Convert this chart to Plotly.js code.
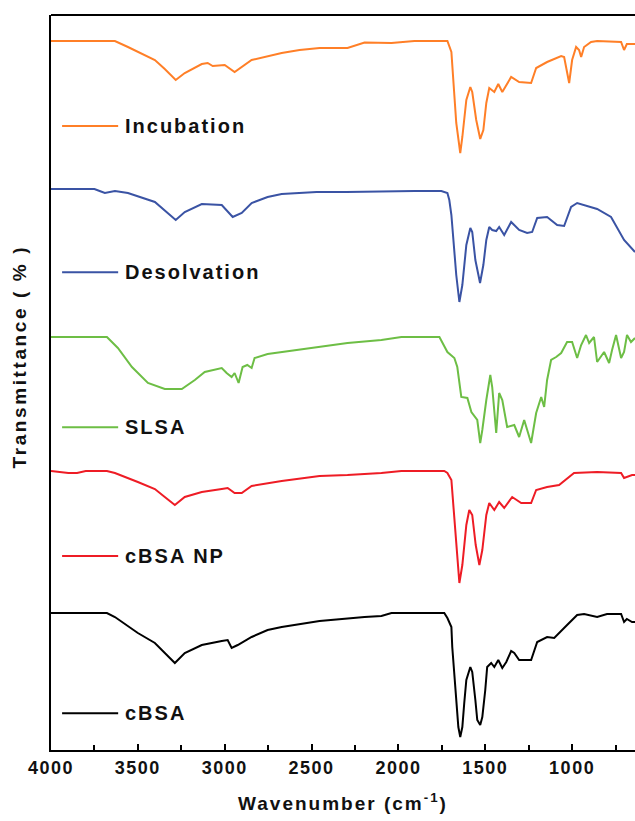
<!DOCTYPE html>
<html>
<head>
<meta charset="utf-8">
<script src="https://cdn.plot.ly/plotly-3.0.1.min.js"></script>
<style>
  html, body { margin: 0; padding: 0; background: #fff; overflow: hidden; }
  #chart { width: 635px; height: 821px; }
  .xtick text { letter-spacing: 1.5px; }
  .xtitle { letter-spacing: 2px; }
  .annotation-text { letter-spacing: 2px; }
  g.annotation[data-index="0"] text { letter-spacing: 2.6px; }
</style>
</head>
<body>
<div id="chart"></div>
<script>
// FTIR spectra, stacked with vertical offsets (arbitrary transmittance units)
const wnIncubation = [4000,3632,3557,3402,3345,3282,3230,3132,3098,3069,3000,2943,2845,2753,2672,2569,2454,2293,2195,2040,1908,1718,1695,1684,1667,1644,1632,1609,1586,1575,1552,1529,1511,1494,1477,1448,1425,1402,1351,1305,1236,1207,1144,1063,1046,1017,1000,977,960,948,931,891,856,718,701,685,638];
const tIncubation  = [141.8,141.8,140.6,138,136.2,134,135.4,137.2,137.4,136.8,137,135.6,138,138.8,139.4,140,140.4,140.4,141.5,141.4,141.8,141.8,139.6,134,125.4,119.4,122.6,130,132.6,131.6,126,122.2,124,129.4,132.4,131.6,133.2,131.6,134.6,133.6,133.4,136.4,137.6,138.8,138.6,133.4,138,140.6,140,138.6,140.6,141.6,141.8,141.6,140,141.2,141.2];

const wnDesolvation = [4000,3750,3720,3690,3632,3557,3402,3282,3230,3132,3017,2983,2954,2902,2845,2753,2672,2471,2300,1908,1753,1718,1707,1695,1684,1667,1649,1632,1609,1586,1575,1557,1530,1511,1494,1477,1460,1437,1420,1391,1351,1305,1259,1230,1201,1144,1086,1046,1006,971,856,776,701,655,638];
const tDesolvation  = [112.2,112.2,111.8,111.4,111.8,111.4,109.6,106,107.6,109.2,109,107.6,106.6,107.4,109.4,110.6,111.2,111.6,111.6,111.8,111.8,111.4,110,107,102,95,89.6,93,101,104.4,103.6,98,93.4,97,102,104.6,104,103.8,104.6,103,105.6,104,103.4,103.6,106.4,106.6,105,104.8,108.6,109.4,108.2,106.6,102,100.2,99.6];

const wnSLSA = [4000,3678,3615,3534,3442,3345,3247,3172,3115,3017,2989,2960,2943,2920,2897,2870,2845,2828,2753,2672,2454,2293,2098,1983,1764,1718,1678,1661,1638,1603,1580,1546,1529,1517,1494,1471,1460,1437,1420,1402,1374,1333,1305,1276,1236,1207,1178,1161,1144,1121,1092,1063,1029,1000,971,948,920,902,874,856,816,787,770,747,718,701,684,661,638];
const tSLSA  = [82.6,82.6,80.4,76.6,73.4,72.2,72.2,74,75.6,76.4,75.4,74.6,75.4,73.4,76.6,77,76.4,78.4,79.2,79.6,80.6,81.4,82,82.6,82.6,79.6,78.4,76.6,70.6,70.4,67.6,66,61.4,64,70,75,72.6,63.4,71.4,70,64.6,65,62.6,66,61.4,67.4,70.6,68.6,74,78,78.6,79.4,81.6,81.6,78.4,81,83,81.4,82.6,77.6,79.6,77.4,80,83,78.4,79.6,83,81.6,82.4];

const wnCBSANP = [4000,3900,3850,3800,3678,3632,3500,3402,3345,3287,3230,3132,3017,2983,2943,2902,2845,2753,2672,2454,2293,2098,1983,1736,1718,1695,1684,1667,1649,1632,1609,1592,1575,1555,1534,1517,1494,1477,1448,1420,1391,1345,1293,1236,1207,1144,1103,1075,989,856,718,701,655,638];
const tCBSANP  = [55.8,55.4,55.4,55.8,55.8,55.4,53.6,52.2,50.6,49,50.6,51.6,52.2,52.4,51.4,51.4,52.8,53.4,53.8,54.8,55,55.4,55.8,55.8,55.4,54,49,41,33.4,37,45,48,47,41,37,40,47,49.4,48,49.6,48.4,50.6,49.4,49.4,52,52.6,52.8,53,55.4,55.6,55.4,54.4,55,55];

const wnCBSA = [4000,3678,3632,3500,3402,3345,3287,3230,3132,3017,2983,2960,2925,2845,2753,2672,2454,2195,2098,2040,1736,1718,1695,1690,1678,1667,1655,1644,1632,1621,1609,1586,1575,1557,1546,1529,1517,1500,1489,1466,1448,1425,1402,1379,1351,1333,1305,1236,1218,1201,1144,1103,1029,971,931,856,799,718,701,685,655,638];
const tCBSA  = [27.4,27.4,26.6,23.4,21.4,19.4,17.4,19.4,21,21.8,22,20.4,21,22.6,24,24.6,25.8,26.6,26.8,27.4,27.4,26.4,24.6,20.6,15.4,9.4,4.6,2.6,4.6,9.4,14,16.6,15.6,10,6,5,6.6,12,16.6,17.4,16.6,18,16.4,17.6,19.8,19.4,18,18,20,21.6,22.6,22.4,25,27,27.2,26.6,27.2,27.2,25.6,26.2,25.6,25.6];

const seriesNames  = ['Incubation', 'Desolvation', 'SLSA', 'cBSA NP', 'cBSA'];
const seriesColors = ['#FF7F27', '#3A53A4', '#6DBE45', '#EE1C25', '#000000'];
const seriesX = [wnIncubation, wnDesolvation, wnSLSA, wnCBSANP, wnCBSA];
const seriesY = [tIncubation, tDesolvation, tSLSA, tCBSANP, tCBSA];

// inline label positions (paper y of each key line)
const labelY = [0.849, 0.650, 0.439, 0.264, 0.050];

const FONT = 'Liberation Sans, Arial, Helvetica, sans-serif';

const traces = seriesNames.map((name, i) => ({
  type: 'scatter',
  mode: 'lines',
  name: name,
  x: seriesX[i],
  y: seriesY[i],
  line: { color: seriesColors[i], width: 2 },
  hoverinfo: 'x+name',
  showlegend: false
}));

const shapes = [
  // top frame line
  { type: 'line', xref: 'paper', yref: 'paper', x0: 0, x1: 1, y0: 1, y1: 1,
    line: { color: '#000', width: 2 } }
];
const annotations = [
  { text: 'Transmittance ( % )', xref: 'paper', yref: 'paper', x: -0.053, y: 0.535,
    xanchor: 'center', yanchor: 'middle', textangle: -90, showarrow: false,
    font: { family: FONT, size: 19, weight: 700, color: '#111' } }
];
seriesNames.forEach((name, i) => {
  shapes.push({ type: 'line', xref: 'paper', yref: 'paper', x0: 0.019, x1: 0.115,
    y0: labelY[i], y1: labelY[i], line: { color: seriesColors[i], width: 2 } });
  annotations.push({ text: name, xref: 'paper', yref: 'paper', x: 0.124, y: labelY[i],
    xanchor: 'left', yanchor: 'middle', showarrow: false,
    font: { family: FONT, size: 20, weight: 700, color: '#111' } });
});

const layout = {
  width: 635,
  height: 821,
  margin: { l: 51, r: 0, t: 15, b: 71 },
  paper_bgcolor: '#fff',
  plot_bgcolor: '#fff',
  font: { family: FONT, color: '#111' },
  xaxis: {
    range: [4000, 638],
    autorange: false,
    showline: true, linecolor: '#000', linewidth: 2,
    ticks: 'inside', ticklen: 6, tickwidth: 2, tickcolor: '#000',
    tick0: 0, dtick: 500,
    minor: { dtick: 250, ticks: 'inside', ticklen: 5, tickwidth: 2, tickcolor: '#000', showgrid: false },
    showgrid: false, zeroline: false,
    tickfont: { family: FONT, size: 18, weight: 700, color: '#111' },
    title: { text: 'Wavenumber (cm<sup>-1</sup>)', standoff: 20,
             font: { family: FONT, size: 19, weight: 700, color: '#111' } }
  },
  yaxis: {
    range: [0, 147],
    autorange: false,
    showline: true, linecolor: '#000', linewidth: 2,
    ticks: '', showticklabels: false,
    showgrid: false, zeroline: false
  },
  shapes: shapes,
  annotations: annotations
};

Plotly.newPlot('chart', traces, layout, { displayModeBar: false, staticPlot: true });
</script>
</body>
</html>
